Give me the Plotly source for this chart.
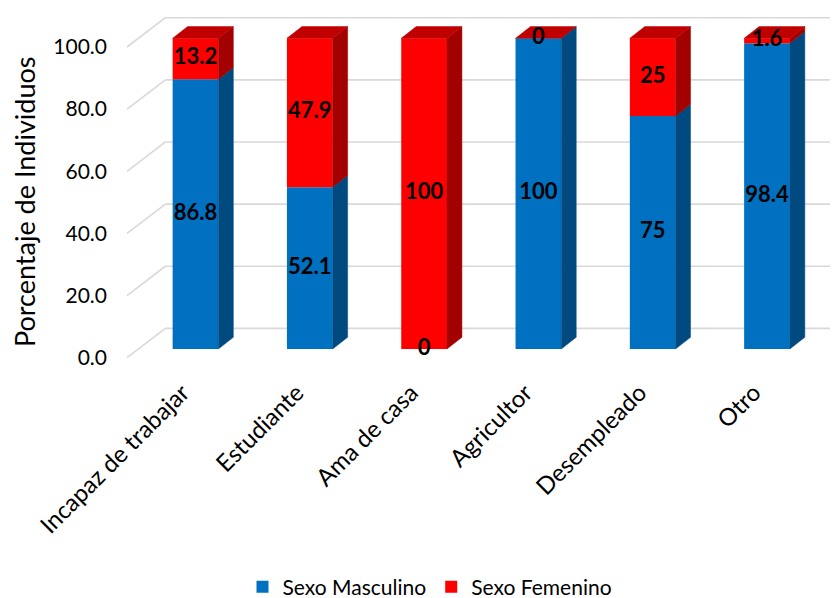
import plotly.graph_objects as go

# Occupational category and share of individuals by sex (%)
categorias = ["Incapaz de trabajar", "Estudiante", "Ama de casa",
              "Agricultor", "Desempleado", "Otro"]
masculino = [86.8, 52.1, 0, 100, 75, 98.4]
femenino = [13.2, 47.9, 100, 0, 25, 1.6]
ticks_y = [0, 20, 40, 60, 80, 100]

series = [
    ("Sexo Masculino", masculino, "#0070C0", "#004A80", "#005A9C"),
    ("Sexo Femenino", femenino, "#FF0000", "#A30000", "#C00000"),
]

FONT = "Lato"

# --- pseudo-3D geometry (category units on x, percentage units on y) ---
BAR_W = 0.40            # width of the front face
DEPTH_X, DEPTH_Y = 0.131, 3.77      # bar depth offset (front -> back face)
WALL_BACK_X, WALL_BACK_Y = 0.236, 6.63   # bar front plane -> back wall
WALL_FRONT_X, WALL_FRONT_Y = -0.0996, -2.8  # bar front plane -> wall front edge
WALL_LEFT = -0.599      # front edge of the side wall

# plot window
ML, MR, MT, MB = 112, 10, 10, 233
W, H = 840, 598
PX_PER_CAT = 114.3
PX_PER_PCT = 3.107
CAT0_PX = 195.5         # pixel column of the first category
BASE_PX = 349.0         # pixel row of 0 % on the bar front plane
x_lo = (ML - CAT0_PX) / PX_PER_CAT
x_hi = (W - MR - CAT0_PX) / PX_PER_CAT
y_hi = (BASE_PX - MT) / PX_PER_PCT
y_lo = (BASE_PX - (H - MB)) / PX_PER_PCT

fig = go.Figure()

# walls and gridlines, kept beneath the bars
shapes = []
grid = dict(color="#D9D9D9", width=1.6)
for t in ticks_y:
    # side-wall diagonal
    shapes.append(dict(type="line", xref="x", yref="y", layer="below",
                       x0=WALL_LEFT, y0=t + WALL_FRONT_Y,
                       x1=WALL_LEFT + (WALL_BACK_X - WALL_FRONT_X),
                       y1=t + WALL_BACK_Y, line=grid))
    # back-wall horizontal
    shapes.append(dict(type="line", xref="x", yref="y", layer="below",
                       x0=WALL_LEFT + (WALL_BACK_X - WALL_FRONT_X),
                       y0=t + WALL_BACK_Y, x1=x_hi + 0.2, y1=t + WALL_BACK_Y,
                       line=grid))

xs = list(range(len(categorias)))

# front faces
bases = [0.0] * len(categorias)
seg_bases = []
for name, vals, front, side, top in series:
    fig.add_trace(go.Bar(
        x=xs, y=vals, base=bases[:], width=BAR_W, name=name,
        marker=dict(color=front, line=dict(width=0)),
        hoverinfo="skip",
    ))
    seg_bases.append(bases[:])
    bases = [b + v for b, v in zip(bases, vals)]

# side faces of every segment
for (name, vals, front, side, top), sb in zip(series, seg_bases):
    for i, (b, v) in enumerate(zip(sb, vals)):
        if v <= 0:
            continue
        xr = i + BAR_W / 2
        fig.add_trace(go.Scatter(
            x=[xr, xr + DEPTH_X, xr + DEPTH_X, xr, xr],
            y=[b, b + DEPTH_Y, b + v + DEPTH_Y, b + v, b],
            mode="lines", fill="toself", fillcolor=side,
            line=dict(width=0.5, color=side),
            showlegend=False, hoverinfo="skip"))

# top face of each stack, in the colour of the uppermost series
top_col = series[-1][4]
for i, total in enumerate(bases):
    xl, xr = i - BAR_W / 2, i + BAR_W / 2
    fig.add_trace(go.Scatter(
        x=[xl, xr, xr + DEPTH_X, xl + DEPTH_X, xl],
        y=[total, total, total + DEPTH_Y, total + DEPTH_Y, total],
        mode="lines", fill="toself", fillcolor=top_col,
        line=dict(width=0.5, color=top_col),
        showlegend=False, hoverinfo="skip"))

# value labels centred on each segment
for (name, vals, *_), sb in zip(series, seg_bases):
    fig.add_trace(go.Scatter(
        x=xs, y=[b + v / 2 for b, v in zip(sb, vals)],
        text=[f"{v:g}" for v in vals], mode="text",
        textfont=dict(family=FONT, size=22, color="black", weight="bold"),
        showlegend=False, hoverinfo="skip"))

fig.update_layout(
    width=W, height=H,
    margin=dict(l=ML, r=MR, t=MT, b=MB, autoexpand=False),
    paper_bgcolor="white", plot_bgcolor="rgba(0,0,0,0)",
    barmode="overlay",
    shapes=shapes,
    font=dict(family=FONT, color="black"),
    xaxis=dict(range=[x_lo, x_hi], tickvals=xs, ticktext=categorias,
               tickangle=-45, showgrid=False, zeroline=False,
               showline=False, ticks="", tickfont=dict(size=24),
               ticklabelshift=-13, ticklabelstandoff=8,
               automargin=False),
    yaxis=dict(range=[y_lo, y_hi], showgrid=False, zeroline=False,
               showticklabels=False, showline=False, automargin=False),
    yaxis2=dict(range=[y_lo - WALL_FRONT_Y, y_hi - WALL_FRONT_Y],
                overlaying="y", side="left", tickvals=ticks_y,
                tickformat=".1f", showgrid=False, zeroline=False,
                showline=False, ticks="", tickfont=dict(size=21),
                ticklabelstandoff=4, automargin=False),
    legend=dict(orientation="h", x=(430 - ML) / (W - ML - MR),
                xanchor="center", y=-(587 - (H - MB)) / (H - MT - MB),
                yanchor="middle", font=dict(size=21),
                traceorder="normal"),
    annotations=[dict(text="Porcentaje de Individuos", textangle=-90,
                      xref="paper", yref="paper",
                      x=(25 - ML) / (W - ML - MR), xanchor="center",
                      y=((H - MB) - 202) / (H - MT - MB), yanchor="middle",
                      showarrow=False, font=dict(size=27))],
)

# attach a hidden trace to yaxis2 so its tick labels render
fig.add_trace(go.Scatter(x=[None], y=[None], yaxis="y2",
                         showlegend=False, hoverinfo="skip"))

fig.write_html("out.html")
